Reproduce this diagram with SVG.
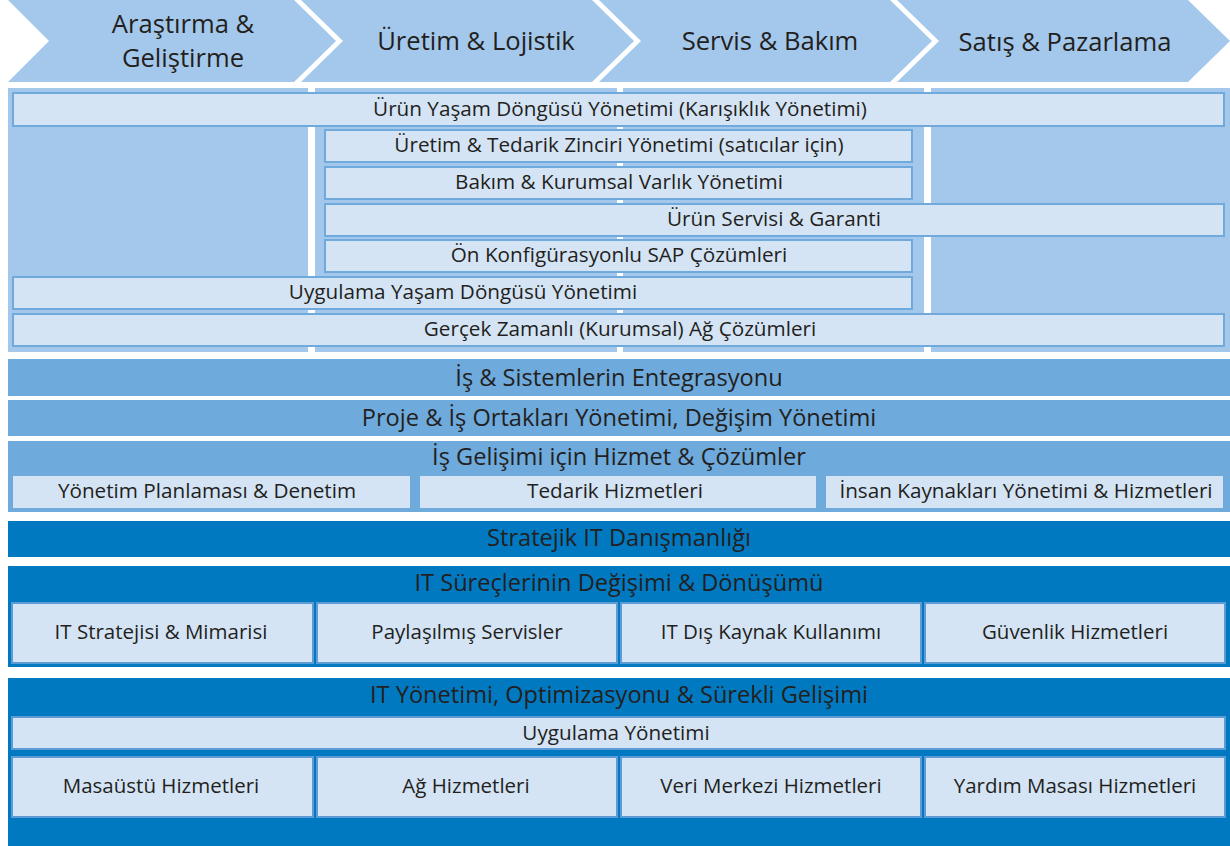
<svg xmlns="http://www.w3.org/2000/svg" width="1230" height="846" viewBox="0 0 1230 846">
<style>
.chev{fill:#a3c8eb}
.col{fill:#a3c8eb}
.box{fill:#d4e4f5;stroke:#70aadd;stroke-width:2}
.sub{fill:#d4e4f5}
.dbox{fill:#d4e4f5;stroke:#5c9bd6;stroke-width:2}
.mid{fill:#6eaadc}
.dark{fill:#0179c1}
text{font-family:"Open Sans","Noto Sans","Liberation Sans",sans-serif;fill:#231f20;text-anchor:middle}
.t1{font-size:25.6px}
.t2{font-size:20.7px}
.t3{font-size:23.6px}
.t4{font-size:20.5px}
</style>
<rect width="1230" height="846" fill="#ffffff"/>
<g id="chevrons">
<g id="chev-rd"><polygon class="chev" points="8,0 294,0 336,41 294,82 8,82 49,41"/><text class="t1" x="183" y="33">Araştırma &amp;</text><text class="t1" x="183" y="67">Geliştirme</text></g>
<g id="chev-prod"><polygon class="chev" points="301,0 592,0 634,41 592,82 301,82 343,41"/><text class="t1" x="476" y="50">Üretim &amp; Lojistik</text></g>
<g id="chev-serv"><polygon class="chev" points="599,0 890,0 932,41 890,82 599,82 641,41"/><text class="t1" x="770" y="50">Servis &amp; Bakım</text></g>
<g id="chev-sales"><polygon class="chev" points="897,0 1188,0 1230,41 1188,82 897,82 939,41"/><text class="t1" x="1065" y="51">Satış &amp; Pazarlama</text></g>
</g>
<g id="columns">
<rect class="col" x="8" y="88" width="300" height="264"/>
<rect class="col" x="315" y="88" width="302" height="264"/>
<rect class="col" x="623" y="88" width="301" height="264"/>
<rect class="col" x="931" y="88" width="299" height="264"/>
</g>
<g id="connectors"></g>
<g id="plm"><rect class="box" x="13" y="93" width="1211" height="33"/><text class="t2" x="620" y="116">Ürün Yaşam Döngüsü Yönetimi (Karışıklık Yönetimi)</text></g>
<g id="scm"><rect class="box" x="325" y="130" width="587" height="32"/><text class="t2" x="619" y="152">Üretim &amp; Tedarik Zinciri Yönetimi (satıcılar için)</text></g>
<g id="eam"><rect class="box" x="325" y="167" width="587" height="32"/><text class="t2" x="619" y="189">Bakım &amp; Kurumsal Varlık Yönetimi</text></g>
<g id="service"><rect class="box" x="325" y="204" width="899" height="32"/><text class="t2" x="774" y="226">Ürün Servisi &amp; Garanti</text></g>
<g id="sap"><rect class="box" x="325" y="240" width="587" height="32"/><text class="t2" x="619" y="262">Ön Konfigürasyonlu SAP Çözümleri</text></g>
<g id="alm"><rect class="box" x="13" y="277" width="899" height="32"/><text class="t2" x="463" y="299">Uygulama Yaşam Döngüsü Yönetimi</text></g>
<g id="rtn"><rect class="box" x="13" y="314" width="1211" height="32"/><text class="t2" x="620" y="336">Gerçek Zamanlı (Kurumsal) Ağ Çözümleri</text></g>
<g id="integration"><rect class="mid" x="8" y="359" width="1222" height="37"/><text class="t3" x="619" y="386">İş &amp; Sistemlerin Entegrasyonu</text></g>
<g id="project"><rect class="mid" x="8" y="400" width="1222" height="36"/><text class="t3" x="619" y="426">Proje &amp; İş Ortakları Yönetimi, Değişim Yönetimi</text></g>
<g id="bizdev"><rect class="mid" x="8" y="441" width="1222" height="71"/><text class="t3" x="619" y="465">İş Gelişimi için Hizmet &amp; Çözümler</text>
<rect class="sub" x="13" y="476" width="397" height="32"/><text class="t2" x="207" y="498">Yönetim Planlaması &amp; Denetim</text>
<rect class="sub" x="420" y="476" width="396" height="32"/><text class="t2" x="615" y="498">Tedarik Hizmetleri</text>
<rect class="sub" x="826" y="476" width="397" height="32"/><text class="t2" x="1026" y="498">İnsan Kaynakları Yönetimi &amp; Hizmetleri</text></g>
<g id="strategic"><rect class="dark" x="8" y="521" width="1222" height="36"/><text class="t3" x="619" y="546">Stratejik IT Danışmanlığı</text></g>
<g id="transform"><rect class="dark" x="8" y="566" width="1222" height="101"/><text class="t3" x="619" y="591">IT Süreçlerinin Değişimi &amp; Dönüşümü</text>
<rect class="dbox" x="12" y="603" width="301" height="60"/><text class="t4" x="161" y="639">IT Stratejisi &amp; Mimarisi</text>
<rect class="dbox" x="317" y="603" width="300" height="60"/><text class="t4" x="467" y="639">Paylaşılmış Servisler</text>
<rect class="dbox" x="621" y="603" width="300" height="60"/><text class="t4" x="771" y="639">IT Dış Kaynak Kullanımı</text>
<rect class="dbox" x="925" y="603" width="300" height="60"/><text class="t4" x="1075" y="639">Güvenlik Hizmetleri</text></g>
<g id="itmgmt"><rect class="dark" x="8" y="678" width="1222" height="168"/><text class="t3" x="619" y="703">IT Yönetimi, Optimizasyonu &amp; Sürekli Gelişimi</text>
<rect class="dbox" x="12" y="717" width="1213" height="32"/><text class="t2" x="616" y="740">Uygulama Yönetimi</text>
<rect class="dbox" x="12" y="757" width="301" height="60"/><text class="t4" x="161" y="793">Masaüstü Hizmetleri</text>
<rect class="dbox" x="317" y="757" width="300" height="60"/><text class="t4" x="466" y="793">Ağ Hizmetleri</text>
<rect class="dbox" x="621" y="757" width="300" height="60"/><text class="t4" x="771" y="793">Veri Merkezi Hizmetleri</text>
<rect class="dbox" x="925" y="757" width="300" height="60"/><text class="t4" x="1075" y="793">Yardım Masası Hizmetleri</text></g>
</svg>
